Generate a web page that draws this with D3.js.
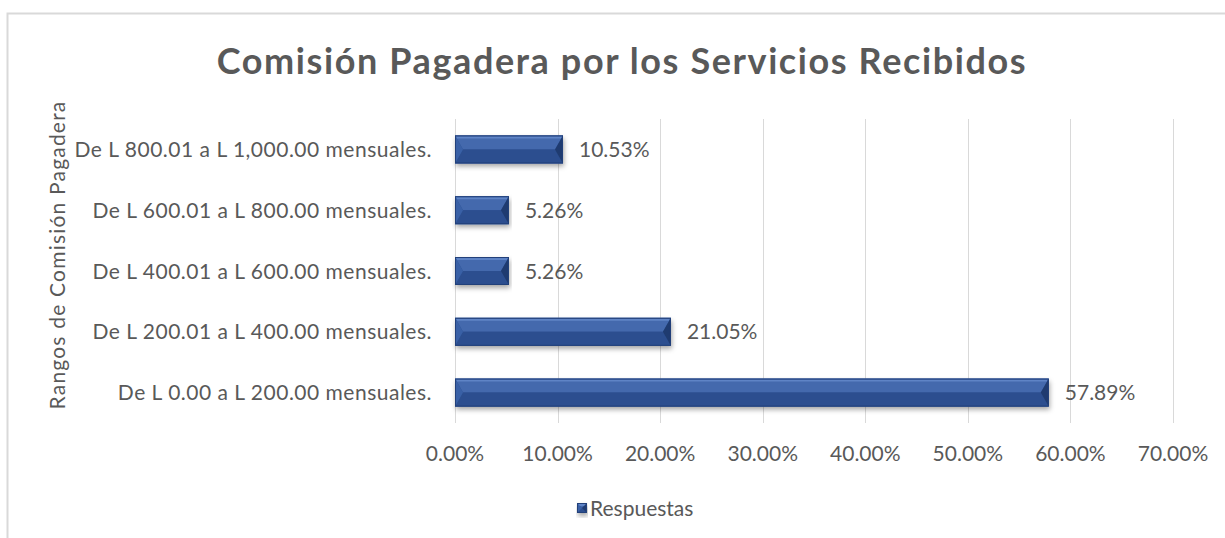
<!DOCTYPE html>
<html>
<head>
<meta charset="utf-8">
<script src="https://cdn.jsdelivr.net/npm/d3@7"></script>
<style>
  body { margin: 0; background: #fff; }
  svg { display: block; font-family: Lato, "Open Sans", sans-serif; }
</style>
</head>
<body>
<svg id="chart" width="1225" height="538"></svg>
<script>
// data, bottom to top as in the picture
var categories = [
  "De L 0.00 a L 200.00 mensuales.",
  "De L 200.01 a L 400.00 mensuales.",
  "De L 400.01 a L 600.00 mensuales.",
  "De L 600.01 a L 800.00 mensuales.",
  "De L 800.01 a L 1,000.00 mensuales."
];
var respuestas = [0.5789, 0.2105, 0.0526, 0.0526, 0.1053];
var xTicks = [0, 0.1, 0.2, 0.3, 0.4, 0.5, 0.6, 0.7];
var seriesName = "Respuestas";

var svg = d3.select("#chart");
var textColor = "#595959";

// frame of the chart (runs off the right and bottom of the window)
svg.append("rect")
  .attr("x", 7.5).attr("y", 13.5)
  .attr("width", 1240).attr("height", 560)
  .attr("fill", "none").attr("stroke", "#d9d9d9").attr("stroke-width", 2);

var defs = svg.append("defs");
var f = defs.append("filter").attr("id", "shadow")
  .attr("x", "-5%").attr("y", "-30%").attr("width", "110%").attr("height", "180%");
f.append("feDropShadow").attr("dx", 1).attr("dy", 3).attr("stdDeviation", 2.5)
  .attr("flood-color", "#000").attr("flood-opacity", 0.35);

var x = d3.scaleLinear().domain([0, 0.7]).range([455, 1173]);
var y = d3.scaleBand().domain(categories.slice().reverse()).range([119, 423]).paddingInner(0.54).paddingOuter(0.27);

// gridlines
svg.append("g").selectAll("line").data(xTicks).enter().append("line")
  .attr("x1", function(d){ return Math.round(x(d)) + 0.5; })
  .attr("x2", function(d){ return Math.round(x(d)) + 0.5; })
  .attr("y1", 119).attr("y2", 423)
  .attr("stroke", "#d9d9d9").attr("stroke-width", 1);

// x tick labels
svg.append("g").selectAll("text").data(xTicks).enter().append("text")
  .text(function(d){ return (d * 100).toFixed(2) + "%"; })
  .attr("x", function(d){ return x(d); })
  .attr("y", 461)
  .attr("text-anchor", "middle")
  .attr("font-size", 21)
  .attr("fill", textColor);

// category labels
svg.append("g").selectAll("text").data(categories).enter().append("text")
  .text(function(d){ return d; })
  .attr("x", 432)
  .attr("y", function(d){ return y(d) + y.bandwidth() / 2; })
  .attr("dy", "0.36em")
  .attr("text-anchor", "end")
  .attr("font-size", 21)
  .attr("letter-spacing", 0.5)
  .attr("fill", textColor);

// bars with an angled bevel: light upper half, dark lower half, wedge ends
var bevel = 8;
function drawBar(g, x0, x1, y0, h) {
  var b = Math.min(bevel, (x1 - x0) / 2);
  var ym = y0 + h / 2;
  var y1 = y0 + h;
  g.append("rect").attr("x", x0).attr("y", y0).attr("width", x1 - x0).attr("height", h)
    .attr("fill", "#2f5190").attr("filter", "url(#shadow)");
  // upper face
  g.append("polygon").attr("points", [[x0, y0], [x1, y0], [x1 - b, ym], [x0 + b, ym]].join(" "))
    .attr("fill", "#4469ad");
  g.append("polygon").attr("points", [[x0 + 1, y0 + 1], [x1 - 1, y0 + 1], [x1 - 2, y0 + 3], [x0 + 2, y0 + 3]].join(" "))
    .attr("fill", "#5f84c6");
  // lower face
  g.append("polygon").attr("points", [[x0, y1], [x1, y1], [x1 - b, ym], [x0 + b, ym]].join(" "))
    .attr("fill", "#2c4e8f");
  // left wedge
  g.append("polygon").attr("points", [[x0, y0], [x0 + b, ym], [x0, y1]].join(" "))
    .attr("fill", "#3960a6");
  // right wedge
  g.append("polygon").attr("points", [[x1, y0], [x1 - b, ym], [x1, y1]].join(" "))
    .attr("fill", "#1f3b70");
  g.append("rect").attr("x", x0 + 0.5).attr("y", y0 + 0.5).attr("width", x1 - x0 - 1).attr("height", h - 1)
    .attr("fill", "none").attr("stroke", "#22407a").attr("stroke-width", 1);
}

var bars = svg.append("g");
categories.forEach(function(c, i) {
  drawBar(bars.append("g"), x(0), x(respuestas[i]), y(c), y.bandwidth());
});

// data labels
svg.append("g").selectAll("text").data(categories).enter().append("text")
  .text(function(d, i){ return (respuestas[i] * 100).toFixed(2) + "%"; })
  .attr("x", function(d, i){ return x(respuestas[i]) + 16; })
  .attr("y", function(d){ return y(d) + y.bandwidth() / 2; })
  .attr("dy", "0.36em")
  .attr("font-size", 21)
  .attr("fill", textColor);

// title
svg.append("text")
  .text("Comisión Pagadera por los Servicios Recibidos")
  .attr("x", 622).attr("y", 74)
  .attr("text-anchor", "middle")
  .attr("font-size", 36)
  .attr("font-weight", "bold")
  .attr("letter-spacing", 1.6)
  .attr("fill", textColor);

// axis title
svg.append("text")
  .text("Rangos de Comisión Pagadera")
  .attr("transform", "translate(65,255) rotate(-90)")
  .attr("text-anchor", "middle")
  .attr("font-size", 21)
  .attr("letter-spacing", 1.2)
  .attr("fill", textColor);

// legend
var lg = svg.append("g");
drawBar(lg, 577, 587, 503, 10);
lg.append("text").text(seriesName)
  .attr("x", 590).attr("y", 508).attr("dy", "0.36em")
  .attr("font-size", 21).attr("fill", textColor);
</script>
</body>
</html>
